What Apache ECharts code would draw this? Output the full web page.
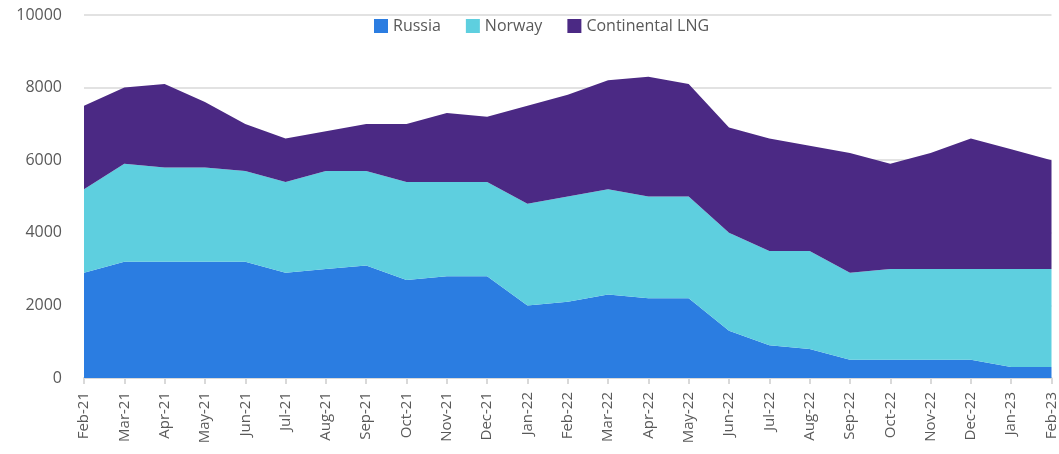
<!DOCTYPE html>
<html>
<head>
<meta charset="utf-8">
<script src="https://cdn.jsdelivr.net/npm/echarts@6/dist/echarts.min.js"></script>
<style>
  html, body { margin: 0; padding: 0; background: #fff; }
  #chart { width: 1059px; height: 454px; }
</style>
</head>
<body>
<div id="chart"></div>
<script>
const months = ['Feb-21', 'Mar-21', 'Apr-21', 'May-21', 'Jun-21', 'Jul-21', 'Aug-21', 'Sep-21', 'Oct-21', 'Nov-21', 'Dec-21',
  'Jan-22', 'Feb-22', 'Mar-22', 'Apr-22', 'May-22', 'Jun-22', 'Jul-22', 'Aug-22', 'Sep-22', 'Oct-22', 'Nov-22', 'Dec-22',
  'Jan-23', 'Feb-23']

const russia = [2900, 3200, 3200, 3200, 3200, 2900, 3000, 3100, 2700, 2800, 2800,
  2000, 2100, 2300, 2200, 2200, 1300, 900, 800, 500, 500, 500, 500, 300, 300]
const norway = [2300, 2700, 2600, 2600, 2500, 2500, 2700, 2600, 2700, 2600, 2600,
  2800, 2900, 2900, 2800, 2800, 2700, 2600, 2700, 2400, 2500, 2500, 2500, 2700, 2700]
const continentalLng = [2300, 2100, 2300, 1800, 1300, 1200, 1100, 1300, 1600, 1900, 1800,
  2700, 2800, 3000, 3300, 3100, 2900, 3100, 2900, 3300, 2900, 3200, 3600, 3300, 3000]

const textColor = '#595959'
const fontFamily = "'Open Sans', sans-serif"
const lineGrey = '#d9d9d9'

function areaSeries(name, data, color) {
  return {
    name: name,
    type: 'line',
    stack: 'total',
    data: data,
    symbol: 'none',
    lineStyle: { width: 0 },
    areaStyle: { color: color, opacity: 1 },
    itemStyle: { color: color },
  }
}

const chart = echarts.init(document.getElementById('chart'), null, { renderer: 'canvas' })
chart.setOption({
  animation: false,
  textStyle: { fontFamily: fontFamily },
  legend: {
    top: 13,
    left: 369,
    itemWidth: 14,
    itemHeight: 14,
    itemGap: 25,
    icon: 'rect',
    textStyle: { color: textColor, fontSize: 16, fontFamily: fontFamily },
    data: ['Russia', 'Norway', 'Continental LNG'],
  },
  grid: { left: 84, right: 4, top: 15, bottom: 76 },
  xAxis: {
    type: 'category',
    boundaryGap: false,
    data: months,
    axisLine: { lineStyle: { color: lineGrey, width: 2 } },
    axisTick: { show: true, alignWithLabel: true, length: 6, lineStyle: { color: lineGrey, width: 2 } },
    axisLabel: {
      rotate: 90,
      interval: 0,
      margin: 14,
      color: textColor,
      fontSize: 15,
      fontFamily: fontFamily,
    },
  },
  yAxis: {
    type: 'value',
    min: 0,
    max: 10000,
    interval: 2000,
    axisLine: { show: false },
    axisTick: { show: false },
    splitLine: { lineStyle: { color: lineGrey, width: 1.5 } },
    axisLabel: {
      color: textColor,
      fontSize: 16,
      margin: 22,
      fontFamily: fontFamily,
      formatter: (v) => String(v),
    },
  },
  series: [
    areaSeries('Russia', russia, '#2b7de1'),
    areaSeries('Norway', norway, '#5ecfdf'),
    areaSeries('Continental LNG', continentalLng, '#4b2984'),
  ],
})
</script>
</body>
</html>
